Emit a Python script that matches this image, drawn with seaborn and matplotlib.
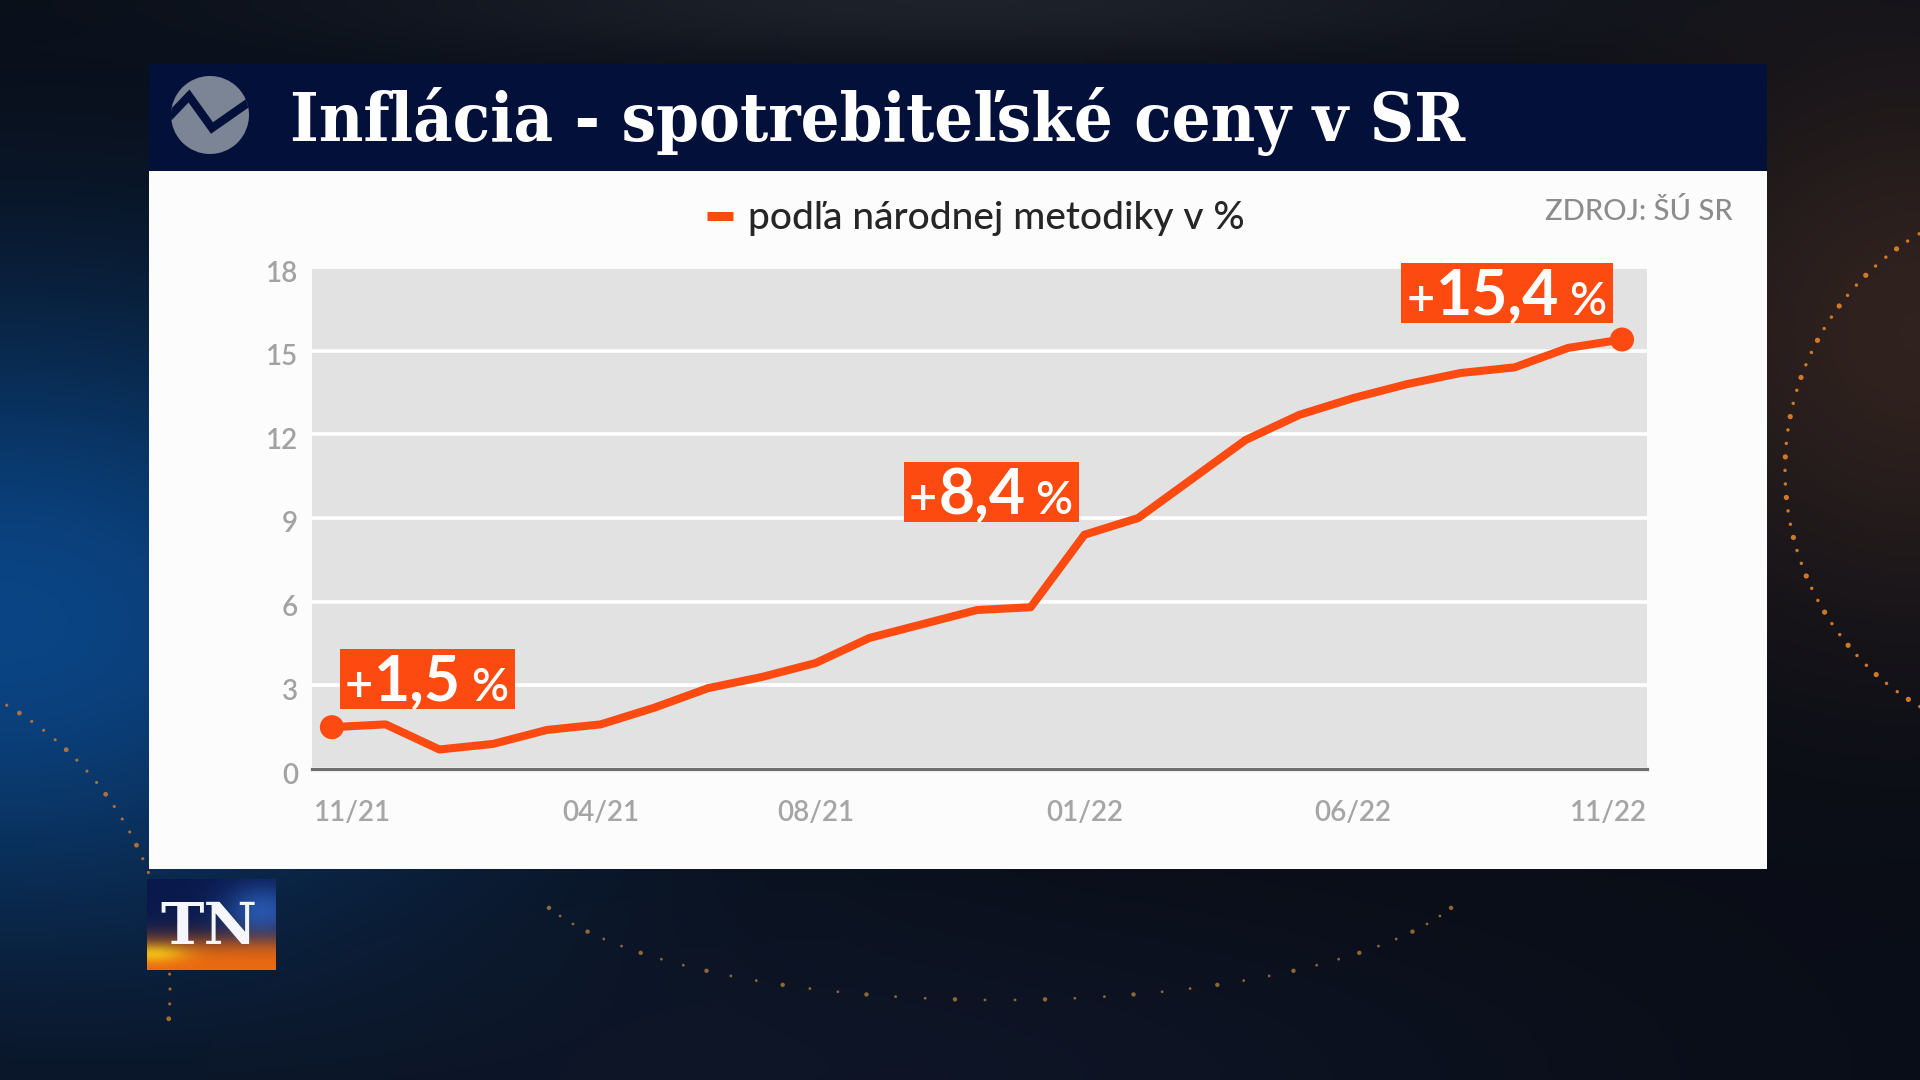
import numpy as np
import pandas as pd
import matplotlib
matplotlib.use("Agg")
import matplotlib.pyplot as plt
import seaborn as sns
from matplotlib import transforms as mtransforms
from matplotlib.patches import Rectangle, Circle
from matplotlib.lines import Line2D

# ---------------- data ----------------
periods = ["11/20", "12/20", "01/21", "02/21", "03/21", "04/21", "05/21", "06/21",
           "07/21", "08/21", "09/21", "10/21", "11/21", "12/21", "01/22", "02/22",
           "03/22", "04/22", "05/22", "06/22", "07/22", "08/22", "09/22", "10/22", "11/22"]
values = [1.5, 1.6, 0.7, 0.9, 1.4, 1.6, 2.2, 2.9, 3.3, 3.8, 4.7, 5.2, 5.7, 5.8,
          8.4, 9.0, 10.4, 11.8, 12.7, 13.3, 13.8, 14.2, 14.4, 15.1, 15.4]
series_name = "podľa národnej metodiky v %"
tick_index = [0, 5, 9, 14, 19, 24]
tick_labels = ["11/21", "04/21", "08/21", "01/22", "06/22", "11/22"]
y_ticks = [0, 3, 6, 9, 12, 15, 18]
label_index = [0, 14, 24]
label_numbers = ["1,5", "8,4", "15,4"]
title = "Inflácia - spotrebiteľské ceny v SR"
source = "ZDROJ: ŠÚ SR"

df = pd.DataFrame({"month": np.arange(len(values)), "period": periods, "value": values})

ORANGE = "#fd4a10"
NAVY = "#03103a"

sns.set_theme(style="white")
plt.rcParams["font.family"] = ["Lato", "DejaVu Sans"]

fig = plt.figure(figsize=(19.2, 10.8), dpi=100)

# ---------------- background ----------------
bg = fig.add_axes([0, 0, 1, 1], zorder=0)
bg.set_xlim(0, 1920)
bg.set_ylim(1080, 0)
bg.axis("off")
yy, xx = np.mgrid[0:270, 0:480]
X = xx * 4.0
Y = yy * 4.0
base = np.array([0.035, 0.05, 0.085])
blue = np.array([0.04, 0.27, 0.52])
warm = np.array([0.22, 0.12, 0.05])
g1 = np.exp(-((X / 520.0) ** 2 + ((Y - 620) / 330.0) ** 2))
g2 = np.exp(-(((X - 1920) / 320.0) ** 2 + ((Y - 330) / 300.0) ** 2))
g3 = np.exp(-(((X - 900) / 700.0) ** 2 + ((Y - 1080) / 200.0) ** 2))
g4 = np.exp(-(((X - 960) / 600.0) ** 2 + ((Y - 0) / 60.0) ** 2))
img = (base + g1[..., None] * (blue - base) + g2[..., None] * warm * 0.7
       + g3[..., None] * np.array([0.02, 0.03, 0.06]) + g4[..., None] * np.array([0.08, 0.08, 0.08]))
bg.imshow(np.clip(img, 0, 1), extent=(0, 1920, 1080, 0), aspect="auto", zorder=0)

# decorative dotted arcs (background ornament)
ang = np.linspace(np.radians(118), np.radians(245), 46)
bg.scatter(2060 + 275 * np.cos(ang), 470 - 275 * np.sin(ang), s=np.where(np.arange(46) % 3 == 0, 14, 6),
           color="#f08a2a", alpha=0.85, edgecolor="none", zorder=0.5)
ang2 = np.linspace(np.radians(-5), np.radians(70), 30)
bg.scatter(-160 + 330 * np.cos(ang2), 990 - 330 * np.sin(ang2), s=np.where(np.arange(30) % 4 == 0, 12, 5),
           color="#f08a2a", alpha=0.7, edgecolor="none", zorder=0.5)
ang3 = np.linspace(np.radians(200), np.radians(340), 40)
bg.scatter(1000 + 480 * np.cos(ang3), 860 - 140 * np.sin(ang3), s=np.where(np.arange(40) % 3 == 0, 10, 4),
           color="#e8a040", alpha=0.6, edgecolor="none", zorder=0.5)

bg.add_patch(Rectangle((149, 64), 1618, 107, fc=NAVY, ec="none", zorder=1))
bg.add_patch(Rectangle((149, 171), 1618, 698, fc="#fcfcfc", ec="none", zorder=1))

# channel logo in header
logo = Circle((210, 115), 39, fc="#7c8595", ec="none", zorder=2)
bg.add_patch(logo)
zig = Line2D([168, 189, 212, 252], [118, 96, 128, 100], color=NAVY, lw=6,
             solid_joinstyle="miter", zorder=3)
bg.add_line(zig)
zig.set_clip_path(logo)

renderer = fig.canvas.get_renderer()

t_title = bg.text(290, 141, title, color="white", fontsize=52, fontweight="bold",
                  family=["DejaVu Serif"], fontstretch="condensed", va="baseline", ha="left", zorder=3)
w = t_title.get_window_extent(renderer).width
if w > 1175:
    t_title.set_fontsize(52 * 1175 / w)

bg.text(1733, 212, source, ha="right", va="center", fontsize=21, color="#8c8c8c",
        fontweight="medium", zorder=3)

# TN logo bottom-left
tn = fig.add_axes([147 / 1920, 1 - 970 / 1080, 129 / 1920, 91 / 1080], zorder=3)
ty, tx = np.mgrid[0:91, 0:129]
tv = ty / 90.0
th = tx / 128.0
top_c = np.array([0.04, 0.10, 0.30])
mid_c = np.array([0.16, 0.36, 0.72])
bot_c = np.array([0.93, 0.42, 0.06])
s = 1 / (1 + np.exp(-(tv - 0.68) * 14))
bluish = np.exp(-(((th - 0.9) / 0.3) ** 2 + ((tv - 0.35) / 0.3) ** 2))
tn_img = top_c + (mid_c - top_c) * bluish[..., None] * 0.9
tn_img = tn_img * (1 - s[..., None]) + bot_c * s[..., None]
glow = np.exp(-(((th - 0.05) / 0.25) ** 2 + ((tv - 0.82) / 0.1) ** 2))
tn_img = tn_img + glow[..., None] * np.array([0.1, 0.35, 0.0])
tn.imshow(np.clip(tn_img, 0, 1), extent=(0, 1, 0, 1), aspect="auto")
tn.axis("off")
tn.text(0.48, 0.46, "TN", color="#f4f6fb", fontsize=42, fontweight="bold",
        family=["DejaVu Serif"], ha="center", va="center", transform=tn.transAxes)

# ---------------- chart ----------------
ax = fig.add_axes([312 / 1920, 1 - 769 / 1080, 1335 / 1920, 502 / 1080], zorder=2)
ax.set_facecolor("#e2e2e3")

sns.lineplot(data=df, x="month", y="value", color=ORANGE, linewidth=5.8, ax=ax,
             label=series_name, solid_joinstyle="round", solid_capstyle="round", zorder=3)
ends = df.iloc[[0, -1]]
sns.scatterplot(data=ends, x="month", y="value", color=ORANGE, s=300, edgecolor="none",
                ax=ax, legend=False, zorder=4, clip_on=False)

ax.set_xlim(-0.37, len(values) - 1 + 0.465)
ax.set_ylim(0, 18)
ax.set_yticks(y_ticks)
ax.set_xticks(tick_index)
ax.set_xticklabels(tick_labels)
ax.set_xlabel("")
ax.set_ylabel("")

ax.grid(axis="y", color="white", lw=2.6)
ax.grid(axis="x", visible=False)
ax.set_axisbelow(True)
for side in ["left", "right", "top"]:
    ax.spines[side].set_visible(False)
ax.spines["bottom"].set_color("#6e6e6e")
ax.spines["bottom"].set_linewidth(2.3)

ax.tick_params(axis="y", length=0, pad=10, labelsize=20, labelcolor="#a2a2a2")
ax.tick_params(axis="x", length=0, pad=22, labelsize=20, labelcolor="#a5a5a5")
for lab in ax.get_yticklabels() + ax.get_xticklabels():
    lab.set_fontweight("semibold")
for lab in ax.get_yticklabels():
    lab.set_transform(lab.get_transform() + mtransforms.ScaledTranslation(0, -0.04, fig.dpi_scale_trans))
xl = ax.get_xticklabels()
xl[0].set_ha("left")
xl[0].set_transform(xl[0].get_transform() + mtransforms.ScaledTranslation(-0.18, 0, fig.dpi_scale_trans))
xl[-1].set_ha("right")
xl[-1].set_transform(xl[-1].get_transform() + mtransforms.ScaledTranslation(0.25, 0, fig.dpi_scale_trans))

leg = ax.legend(loc="center left", bbox_to_anchor=(707 / 1920, 1 - 219 / 1080),
                bbox_transform=fig.transFigure, frameon=False,
                prop=dict(family=["Lato", "DejaVu Sans"], weight="medium", size=28),
                handlelength=0.67, handletextpad=0.38, borderpad=0, borderaxespad=0)
for t in leg.get_texts():
    t.set_color("#262626")
for h in leg.legend_handles:
    h.set_linewidth(6.5)
    h.set_solid_capstyle("butt")

# value labels (orange boxes anchored at data points)
box_offsets = [("left", 8, 18), ("right", -5, 13), ("right", -9, 17)]
for i, num, (side, dx, dy) in zip(label_index, label_numbers, box_offsets):
    anchor = fig.dpi_scale_trans + mtransforms.ScaledTranslation(df["month"][i], df["value"][i], ax.transData)
    parts = [("+", 35, "semibold", 1), (num, 45, "bold", 10), ("%", 33, "semibold", 0)]
    texts, widths = [], []
    for txt, size, weight, gap in parts:
        t = ax.text(0, 0, txt, transform=anchor, fontsize=size, fontweight=weight,
                    color="white", ha="left", va="baseline", zorder=6, clip_on=False)
        texts.append(t)
        widths.append(t.get_window_extent(renderer).width)
    total = sum(widths) + sum(p[3] for p in parts)
    wbox = total + 12
    left = dx if side == "left" else dx - wbox
    ax.add_patch(Rectangle((left / 100, dy / 100), wbox / 100, 0.60, transform=anchor,
                           fc=ORANGE, ec="none", zorder=5, clip_on=False))
    cur = left + 5
    for t, wdt, p in zip(texts, widths, parts):
        t.set_position((cur / 100, (dy + 8) / 100))
        cur += wdt + p[3]

fig.savefig("out.png", dpi=100)
